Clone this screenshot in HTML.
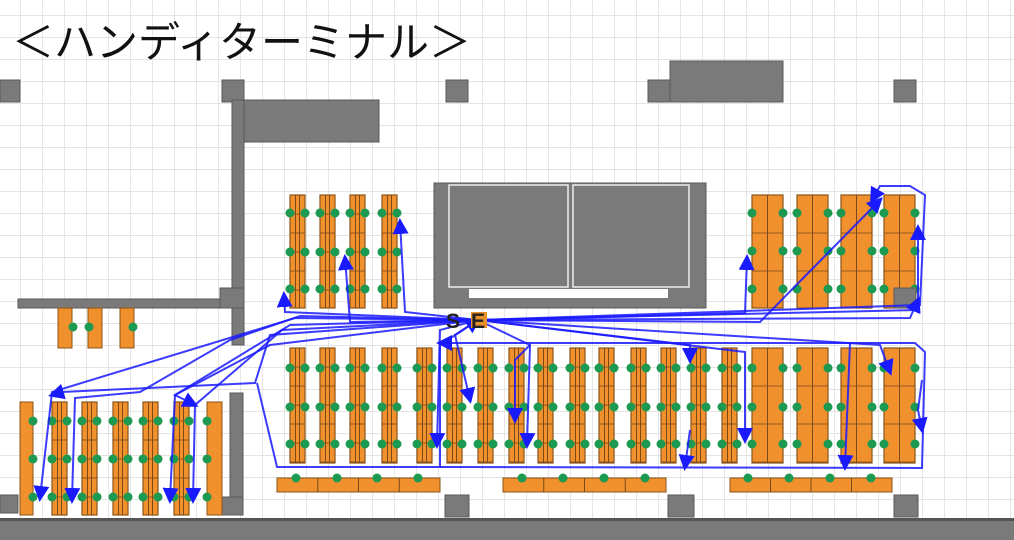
<!DOCTYPE html>
<html><head><meta charset="utf-8"><style>
html,body{margin:0;padding:0;background:#fff;}
#c{position:relative;width:1014px;height:540px;overflow:hidden;}
</style></head><body><div id="c">
<svg id="s" width="1014" height="540" xmlns="http://www.w3.org/2000/svg" style="position:absolute;left:0;top:0">
<defs>
<pattern id="g" x="20" y="15" width="22" height="22" patternUnits="userSpaceOnUse">
<path d="M0 0V22M0 0H22" stroke="#dcdcdc" stroke-width="1.4" fill="none"/>
</pattern>
<marker id="ar" markerWidth="8" markerHeight="8" refX="6" refY="4" orient="auto"><path d="M0,0 L8,4 L0,8 z" fill="#1a1aff"/></marker>
</defs>
<rect width="1014" height="540" fill="url(#g)"/>
<text x="12" y="57" font-family="'Liberation Sans','Noto Sans CJK JP',sans-serif" font-size="42" fill="#111">＜ハンディターミナル＞</text>
<g fill="#7a7a7a" stroke="#5a5a5a" stroke-width="1">
<rect x="0" y="80" width="20" height="22"/>
<rect x="222" y="80" width="22" height="22"/>
<rect x="446" y="80" width="22" height="22"/>
<rect x="648" y="80" width="22" height="22"/>
<rect x="894" y="80" width="22" height="22"/>
<rect x="670" y="61" width="113" height="41"/>
<rect x="244" y="100" width="135" height="42"/>
<rect x="232" y="100" width="12" height="245"/>
<rect x="18" y="299" width="222" height="9"/>
<rect x="220" y="288" width="24" height="20"/>
<rect x="230" y="393" width="13" height="122"/>
<rect x="222" y="497" width="21" height="18"/>
<rect x="0" y="495" width="18" height="18"/>
<rect x="445" y="495" width="24" height="22"/>
<rect x="668" y="495" width="26" height="22"/>
<rect x="894" y="495" width="24" height="22"/>
<rect x="434" y="183" width="272" height="125"/>
</g>
<rect x="0" y="518" width="1014" height="22" fill="#7a7a7a"/>
<rect x="0" y="518" width="1014" height="3" fill="#555"/>
<g stroke="#eee" stroke-width="1.5" fill="#7a7a7a">
<rect x="449" y="185" width="119" height="102"/>
<rect x="573" y="185" width="116" height="102"/>
</g>
<rect x="469" y="289" width="199" height="9" fill="#fff"/>
<g id="racks"></g>
<g id="paths" fill="none" stroke="#1a1aff" stroke-width="2" stroke-opacity="0.85"></g>
<text x="446" y="328" font-family="'Liberation Sans',sans-serif" font-size="21" font-weight="bold" fill="#222">S</text>
<rect x="471" y="312" width="16" height="16" fill="#e8902a"/>
<text x="471" y="328" font-family="'Liberation Sans',sans-serif" font-size="21" font-weight="bold" fill="#222">E</text>
</svg>
</div>
<script>
var NS="http://www.w3.org/2000/svg";
var R=document.getElementById('racks');
function el(t,a,p){var e=document.createElementNS(NS,t);for(var k in a)e.setAttribute(k,a[k]);(p||R).appendChild(e);return e;}
function rack(x,y,w,h,dy,dots,split){
 el('rect',{x:x,y:y,width:w,height:h,fill:'#f0912e',stroke:'#8a5418','stroke-width':1.2});
 if(split){el('line',{x1:x+w/2-2,y1:y,x2:x+w/2-2,y2:y+h,stroke:'#7a4a18','stroke-width':1});
 el('line',{x1:x+w/2+2,y1:y,x2:x+w/2+2,y2:y+h,stroke:'#7a4a18','stroke-width':1});}
 else el('line',{x1:x+w/2,y1:y,x2:x+w/2,y2:y+h,stroke:'#7a4a18','stroke-width':1});
 for(var yy=y+dy;yy<y+h;yy+=dy)el('line',{x1:x,y1:yy,x2:x+w,y2:yy,stroke:'#7a4a18','stroke-width':0.8});
 dots.forEach(function(d){el('circle',{cx:x,cy:d,r:4.5,fill:'#1c9a52'});el('circle',{cx:x+w,cy:d,r:4.5,fill:'#1c9a52'});});
}
[290,320,350,382].forEach(function(x){rack(x,195,15,113,19,[213,252,289],true);});
[752,797,841,884].forEach(function(x){rack(x,195,31,113,38,[213,251,289],false);});
el('rect',{x:894,y:288,width:22,height:20,fill:'#7a7a7a',stroke:'#5a5a5a'});
[290,320,350,382,417,447,478,509,538,570,599,631,661,691,722].forEach(function(x){rack(x,348,15,115,19,[368,407,444],true);});
[752,797,841,884].forEach(function(x){rack(x,348,31,115,38,[368,407,444],false);});
el('rect',{x:20,y:402,width:13,height:113,fill:'#f0912e',stroke:'#8a5418'});
[421,459,497].forEach(function(d){el('circle',{cx:33,cy:d,r:4.5,fill:'#1c9a52'});});
[52,82,113,143,174].forEach(function(x){rack(x,402,15,113,19,[421,459,497],true);});
el('rect',{x:207,y:402,width:15,height:113,fill:'#f0912e',stroke:'#8a5418'});
[421,459,497].forEach(function(d){el('circle',{cx:207,cy:d,r:4.5,fill:'#1c9a52'});});
[58,88,120].forEach(function(x){el('rect',{x:x,y:308,width:14,height:40,fill:'#f0912e',stroke:'#8a5418'});});
[73,89,133].forEach(function(x){el('circle',{cx:x,cy:327,r:4.5,fill:'#1c9a52'});});
function bench(x,w,ds){el('rect',{x:x,y:478,width:w,height:14,fill:'#f0912e',stroke:'#8a5418'});
 for(var i=1;i<4;i++)el('line',{x1:x+w*i/4,y1:478,x2:x+w*i/4,y2:492,stroke:'#7a4a18'});
 ds.forEach(function(d){el('circle',{cx:d,cy:478,r:4.5,fill:'#1c9a52'});});}
bench(277,163,[296,337,377,418]);bench(503,163,[522,563,604,645]);bench(730,162,[748,789,830,871]);
var P=document.getElementById('paths');
var L=[
"478,320 295,318 52,392 40,498",
"478,320 300,316 230,340 140,392 75,398 72,500",
"478,320 290,325 175,395 195,405",
"478,320 282,330 195,405 193,500",
"478,320 270,345 175,395 170,500",
"478,320 350,322 345,258",
"478,320 405,312 400,222",
"478,320 285,312 284,295",
"478,320 270,335 255,383 62,392 52,395",
"257,383 277,467 440,467 440,345 478,320",
"440,467 922,468 925,352 915,343 440,343",
"478,320 745,313 747,258",
"478,320 760,322 880,200",
"478,320 920,305 925,195 910,186 880,186 872,200",
"478,320 918,310 918,228",
"478,320 745,352 745,440",
"478,320 690,345 690,360",
"478,320 880,345 890,372",
"478,320 530,345 527,445",
"478,320 455,335 470,400",
"478,320 440,330 437,445",
"530,345 515,360 515,420",
"690,430 685,467",
"850,343 845,467",
"922,380 918,410 922,430",
"478,320 910,318 918,300"
];
L.forEach(function(p){el('polyline',{points:p,'marker-end':'url(#ar)'},P);});
</script>
</body></html>
